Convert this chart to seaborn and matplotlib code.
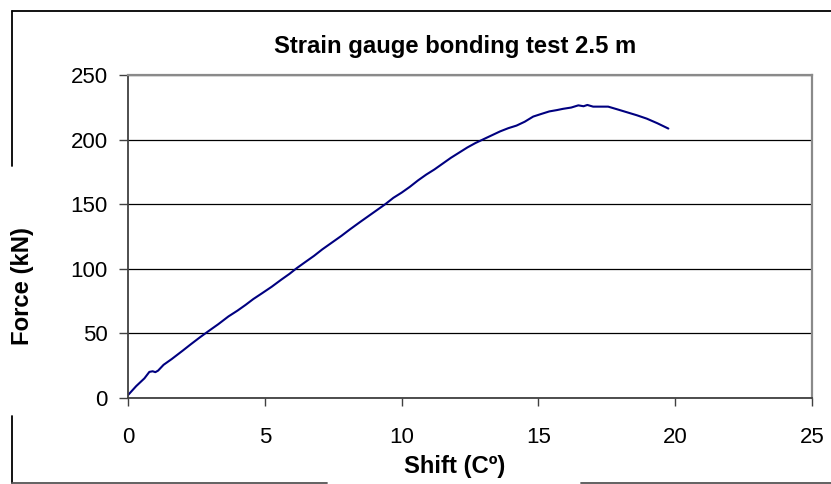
import matplotlib
matplotlib.use("Agg")
import matplotlib.pyplot as plt
import seaborn as sns
import pandas as pd
from matplotlib.lines import Line2D

# ---- data ----
shift = [0.0, 0.3, 0.6, 0.78, 0.9, 1.0, 1.1, 1.3, 1.6, 2.0, 2.3, 2.64, 3.0, 3.3,
         3.67, 4.0, 4.3, 4.58, 4.9, 5.25, 5.6, 5.9, 6.17, 6.5, 6.8, 7.1, 7.5, 7.8,
         8.11, 8.5, 8.8, 9.1, 9.4, 9.7, 10.0, 10.3, 10.6, 10.9, 11.2, 11.5, 11.8,
         12.1, 12.4, 12.7, 13.0, 13.3, 13.6, 13.9, 14.2, 14.5, 14.81, 15.1, 15.4,
         15.67, 15.9, 16.2, 16.46, 16.65, 16.79, 17.0, 17.3, 17.55, 17.9, 18.29,
         18.6, 18.96, 19.35, 19.75]
force = [2, 9, 15, 20, 20.5, 19.8, 21, 25.5, 30, 36.5, 41.5, 47, 52.5, 57,
         63, 67.5, 72, 76.5, 81, 86, 91.5, 96, 100.5, 105.5, 110, 115, 121, 125.5,
         130.5, 136.5, 141, 145.5, 150, 155, 159, 163.5, 168.5, 173, 177, 181.5, 186,
         190, 194, 197.5, 200.5, 203.5, 206.5, 209, 211, 214, 218, 220, 222,
         223, 224, 225, 226.7, 226, 227, 225.7, 225.7, 225.7, 223.5, 221,
         219, 216.4, 212.8, 208.7]
x_ticks = [0, 5, 10, 15, 20, 25]
y_ticks = [0, 50, 100, 150, 200, 250]
title = "Strain gauge bonding test 2.5 m"
xlabel = "Shift (Cº)"
ylabel = "Force (kN)"

df = pd.DataFrame({"shift": shift, "force": force})

sns.set_style("white")
plt.rcParams["font.family"] = ["Liberation Sans", "DejaVu Sans"]
plt.rcParams["text.color"] = "black"
plt.rcParams["xtick.color"] = "black"
plt.rcParams["ytick.color"] = "black"

fig = plt.figure(figsize=(8.31, 4.84), dpi=100)
ax = fig.add_axes([128 / 831, 1 - 397.7 / 484, (812 - 128) / 831, (397.7 - 75.3) / 484])

sns.lineplot(data=df, x="shift", y="force", sort=False, estimator=None,
             color="#000080", linewidth=1.5, ax=ax)

ax.set_xlim(0, 25)
ax.set_ylim(0, 250)
ax.set_xticks(x_ticks)
ax.set_yticks(y_ticks)
ax.set_xticklabels([str(v) for v in x_ticks])
ax.set_yticklabels([str(v) for v in y_ticks])
ax.tick_params(axis="x", direction="out", length=6, width=1, pad=15,
               labelsize=16, color="#404040", labelcolor="black", bottom=True)
ax.tick_params(axis="y", direction="out", length=6.5, width=1, pad=8,
               labelsize=16, color="#404040", labelcolor="black", left=True)

ax.yaxis.grid(True, color="black", linewidth=0.9)
ax.xaxis.grid(False)
ax.set_axisbelow(True)

for s in ["top", "right"]:
    ax.spines[s].set_color("#8a8a8a")
    ax.spines[s].set_linewidth(1.6)
for s in ["left", "bottom"]:
    ax.spines[s].set_color("#404040")
    ax.spines[s].set_linewidth(1.3)

ax.set_xlabel("")
ax.set_ylabel("")
fig.text(455 / 831, 1 - 466 / 484, xlabel, ha="center", va="center",
         fontsize=17.2, fontweight="bold", color="black")
fig.text(22 / 831, 1 - 286 / 484, ylabel, ha="center", va="center",
         rotation=90, fontsize=17.2, fontweight="bold", color="black")
fig.text(455 / 831, 1 - 46 / 484, title, ha="center", va="center",
         fontsize=17.2, fontweight="bold", color="black")

# outer chart-area border (with gaps as in the reference)
def fline(x0, y0, x1, y1, color="black"):
    fig.add_artist(Line2D([x0 / 831, x1 / 831], [1 - y0 / 484, 1 - y1 / 484],
                          transform=fig.transFigure, color=color, linewidth=1.3))

fline(12, 10.7, 831, 10.7)
fline(12, 10.7, 12, 165.7)
fline(12, 416, 12, 483)
fline(12, 482.7, 327, 482.7, color="#555555")
fline(581, 482.7, 831, 482.7, color="#555555")

fig.savefig("out.png", dpi=100)
